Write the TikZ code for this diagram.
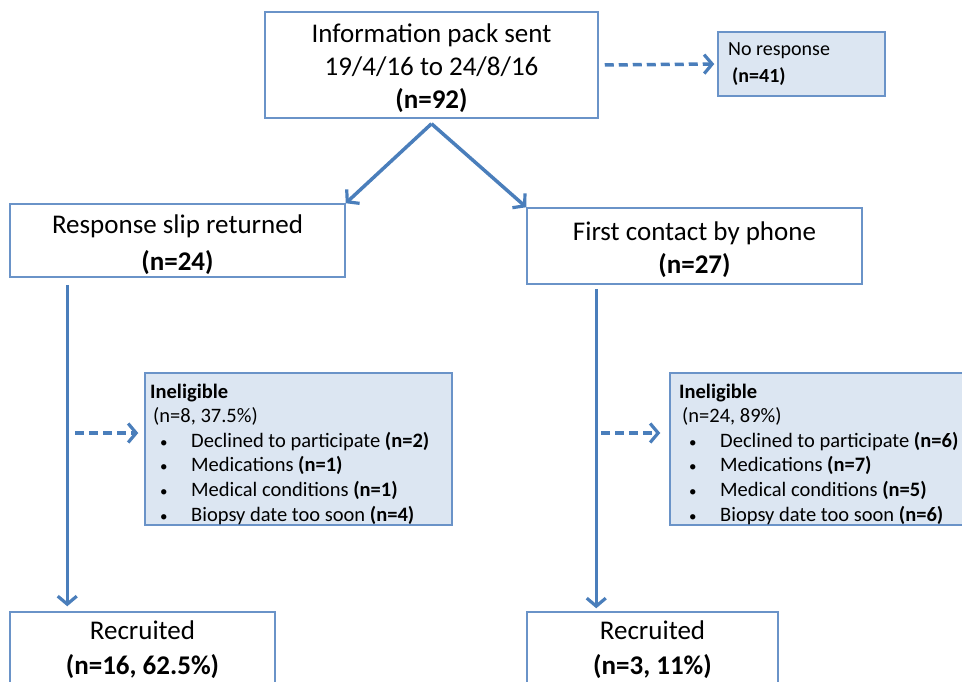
\documentclass[tikz,border=0pt]{standalone}
\usepackage{fontspec}
\setmainfont{Carlito}
\usetikzlibrary{arrows.meta}
\definecolor{bord}{HTML}{6A93C8}
\definecolor{arr}{HTML}{4A7EBB}
\definecolor{fillb}{HTML}{DCE6F2}
\newcommand{\bul}{\hspace*{10pt}\makebox[31pt][l]{\fontsize{15}{15}\selectfont •}}
\begin{document}
\begin{tikzpicture}[x=1pt,y=-1pt,
 box/.style={draw=bord,line width=1.5pt,fill=white,inner sep=0pt},
 ibox/.style={draw=bord,line width=1.5pt,fill=fillb,inner sep=0pt},
 big/.style={font=\fontsize{27}{33}\selectfont,align=center,inner sep=0pt},
 small/.style={font=\fontsize{20.5}{24.6}\selectfont,align=left,inner sep=0pt,anchor=north west},
 arrow/.style={draw=arr,line width=3.5pt,-{Straight Barb[length=8pt,width=19pt,line width=3.2pt]}},
 darrow/.style={arrow,dash pattern=on 9pt off 5pt}]
\useasboundingbox (0,0) rectangle (962,682);
\clip (0,0) rectangle (962,682);
% top
\node[box,minimum width=333pt,minimum height=106pt] (top) at (431.5,65) {};
\node[big] (topt) at (431.5,68) {Information pack sent\\19/4/16 to 24/8/16\\\textbf{(n=92)}};
% no response
\node[ibox,minimum width=167pt,minimum height=64pt] (nr) at (801.5,64) {};
\node[small,font=\fontsize{20}{27}\selectfont] (nrt) at (728,42) {No response\\\hspace*{4pt}\textbf{(n=41)}};
% second row
\node[box,minimum width=335pt,minimum height=73pt] (resp) at (177.5,240.5) {};
\node[big,font=\fontsize{27}{37}\selectfont] (respt) at (177.5,245) {Response slip returned\\\textbf{(n=24)}};
\node[box,minimum width=335pt,minimum height=76pt] (phone) at (694.5,246) {};
\node[big] (phonet) at (694.5,250) {First contact by phone\\\textbf{(n=27)}};
% ineligible boxes
\node[ibox,minimum width=307pt,minimum height=152pt] (ineL) at (298.5,449) {};
\node[small] (ineLt) at (150,383.5) {\textbf{Ineligible}\\
\hspace*{3pt}(n=8, 37.5\%)\\
\bul Declined to participate \textbf{(n=2)}\\
\bul Medications \textbf{(n=1)}\\
\bul Medical conditions \textbf{(n=1)}\\
\bul Biopsy date too soon \textbf{(n=4)}};
\node[ibox,minimum width=310pt,minimum height=152pt] (ineR) at (825,449) {};
\node[small] (ineRt) at (679,383.5) {\textbf{Ineligible}\\
\hspace*{3pt}(n=24, 89\%)\\
\bul Declined to participate \textbf{(n=6)}\\
\bul Medications \textbf{(n=7)}\\
\bul Medical conditions \textbf{(n=5)}\\
\bul Biopsy date too soon \textbf{(n=6)}};
% recruited
\node[box,minimum width=265pt,minimum height=100pt] (recL) at (142.5,662) {};
\node[big,font=\fontsize{27}{35}\selectfont] (recLt) at (142.5,650) {Recruited\\\textbf{(n=16, 62.5\%)}};
\node[box,minimum width=251pt,minimum height=100pt] (recR) at (652.5,662) {};
\node[big,font=\fontsize{27}{35}\selectfont] (recRt) at (652.5,650) {Recruited\\\textbf{(n=3, 11\%)}};
% connectors
\coordinate (apex) at ([yshift=-5pt]top.south);
\draw[darrow,shorten <=6pt,shorten >=3pt] (top.east) -- (nr.west);
\draw[arrow] (apex) -- (resp.north east);
\draw[arrow] (apex) -- (phone.north west);
\draw[arrow] ([xshift=58pt,yshift=-7pt]resp.south west) -- ([xshift=58pt,yshift=5pt]recL.north west);
\draw[arrow] ([xshift=70pt,yshift=-4pt]phone.south west) -- ([xshift=70pt,yshift=3pt]recR.north west);
\coordinate (dl) at (75,433);
\coordinate (dr) at (601,433);
\draw[darrow,shorten >=6pt] (dl) -- (ineL.west |- dl);
\draw[darrow,shorten >=9pt] (dr) -- (ineR.west |- dr);
\end{tikzpicture}
\end{document}
